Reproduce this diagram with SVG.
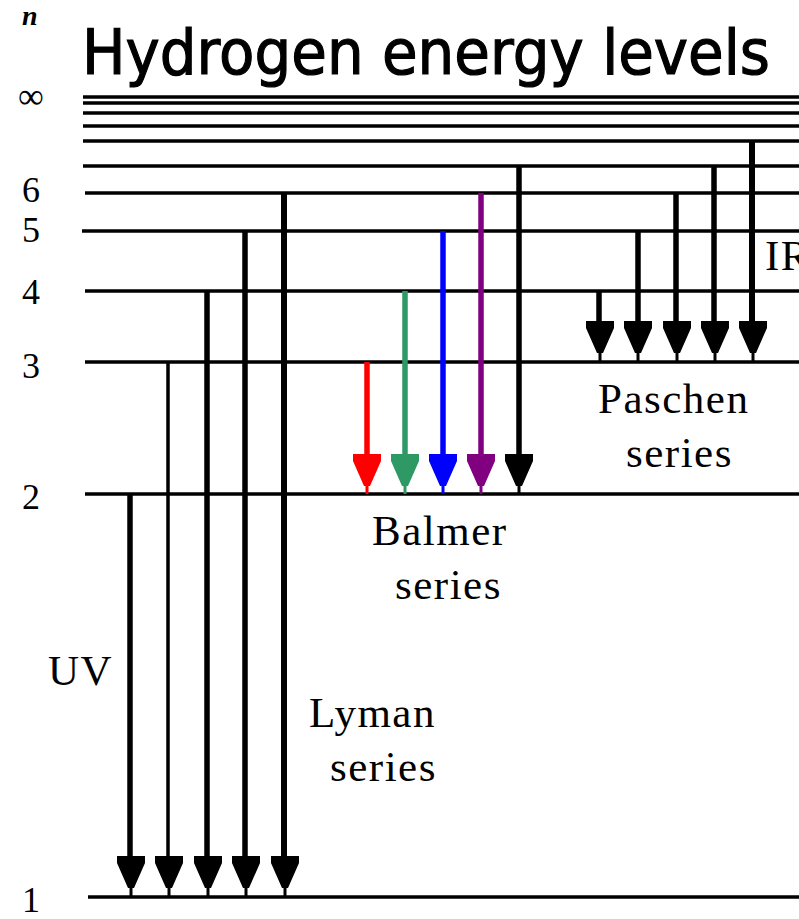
<svg xmlns="http://www.w3.org/2000/svg" width="799" height="919" viewBox="0 0 799 919">
<style>
.lvl{stroke:#000;stroke-width:3.5}
.lab{font-family:"Liberation Serif","Times New Roman",serif;font-size:36px;fill:#000}
.txt{font-family:"Liberation Serif","Times New Roman",serif;font-size:43px;fill:#000;letter-spacing:1.5px}
.title{font-family:"DejaVu Sans","Noto Sans",sans-serif;font-size:62px;fill:#000;stroke:#000;stroke-width:1.2}
.sh{stroke-width:5.5}
</style>
<defs>
<path id="head" d="M-14,-40 L14,-40 L14,-33 L3,-8 L1.5,-8 L1.5,0 L-1.5,0 L-1.5,-8 L-3,-8 L-14,-33 Z"/>
</defs>
<rect width="799" height="919" fill="#fff"/>
<g id="title"><text class="title" x="82" y="74" textLength="688" lengthAdjust="spacingAndGlyphs">Hydrogen energy levels</text></g>
<g id="levels">
<line class="lvl" x1="83" y1="97" x2="799" y2="97"/>
<line class="lvl" x1="83" y1="103" x2="799" y2="103"/>
<line class="lvl" x1="83" y1="113" x2="799" y2="113"/>
<line class="lvl" x1="83" y1="126" x2="799" y2="126"/>
<line class="lvl" x1="83" y1="141" x2="799" y2="141"/>
<line class="lvl" x1="83" y1="166" x2="799" y2="166"/>
<line class="lvl" x1="85" y1="193" x2="799" y2="193"/>
<line class="lvl" x1="82" y1="231" x2="799" y2="231"/>
<line class="lvl" x1="85" y1="291" x2="799" y2="291"/>
<line class="lvl" x1="85" y1="362" x2="799" y2="362"/>
<line class="lvl" x1="85" y1="494" x2="799" y2="494"/>
<line class="lvl" x1="88" y1="897" x2="799" y2="897"/>
</g>
<g id="level-labels">
<text x="22" y="25" font-family="Liberation Serif,serif" font-size="28" font-weight="bold" font-style="italic">n</text>
<text class="lab" x="18" y="108" font-size="32">∞</text>
<text class="lab" x="22" y="202">6</text>
<text class="lab" x="22" y="242">5</text>
<text class="lab" x="22" y="304">4</text>
<text class="lab" x="22" y="378">3</text>
<text class="lab" x="22" y="509">2</text>
<text class="lab" x="22" y="912">1</text>
</g>
<g id="connectors">
<g id="lyman" stroke="#000" fill="#000">
<line x1="130" y1="494" x2="130" y2="860" class="sh"/>
<line x1="168" y1="362" x2="168" y2="860" stroke-width="3.5"/>
<line x1="207" y1="291" x2="207" y2="860" class="sh"/>
<line x1="245" y1="231" x2="245" y2="860" class="sh"/>
<line x1="284" y1="193" x2="284" y2="860" stroke-width="6"/>
<g stroke="none">
<use href="#head" x="131" y="896"/>
<use href="#head" x="169" y="896"/>
<use href="#head" x="208" y="896"/>
<use href="#head" x="246" y="896"/>
<use href="#head" x="285" y="896"/>
</g>
</g>
<g id="balmer">
<line x1="367" y1="362" x2="367" y2="458" stroke="#ff0000" class="sh"/>
<use href="#head" x="367" y="494" fill="#ff0000"/>
<line x1="405" y1="291" x2="405" y2="458" stroke="#2e9964" class="sh"/>
<use href="#head" x="405" y="494" fill="#2e9964"/>
<line x1="443" y1="231" x2="443" y2="458" stroke="#0000ff" class="sh"/>
<use href="#head" x="443" y="494" fill="#0000ff"/>
<line x1="481" y1="193" x2="481" y2="458" stroke="#800080" class="sh"/>
<use href="#head" x="481" y="494" fill="#800080"/>
<line x1="519" y1="166" x2="519" y2="458" stroke="#000" class="sh"/>
<use href="#head" x="519" y="494" fill="#000"/>
</g>
<g id="paschen" stroke="#000" fill="#000">
<line x1="599" y1="291" x2="599" y2="325" class="sh"/>
<line x1="638" y1="231" x2="638" y2="325" class="sh"/>
<line x1="676" y1="193" x2="676" y2="325" class="sh"/>
<line x1="714" y1="166" x2="714" y2="325" class="sh"/>
<line x1="752" y1="141" x2="752" y2="325" stroke-width="6"/>
<g stroke="none">
<use href="#head" x="600" y="361"/>
<use href="#head" x="638" y="361"/>
<use href="#head" x="677" y="361"/>
<use href="#head" x="715" y="361"/>
<use href="#head" x="753" y="361"/>
</g>
</g>
</g>
<g id="series-labels">
<text class="txt" x="372" y="545">Balmer</text>
<text class="txt" x="395" y="599">series</text>
<text class="txt" x="598" y="413">Paschen</text>
<text class="txt" x="626" y="467">series</text>
<text class="txt" x="309" y="727">Lyman</text>
<text class="txt" x="330" y="781">series</text>
<text class="txt" x="48" y="685">UV</text>
<text class="txt" x="765" y="270">IR</text>
</g>
</svg>
